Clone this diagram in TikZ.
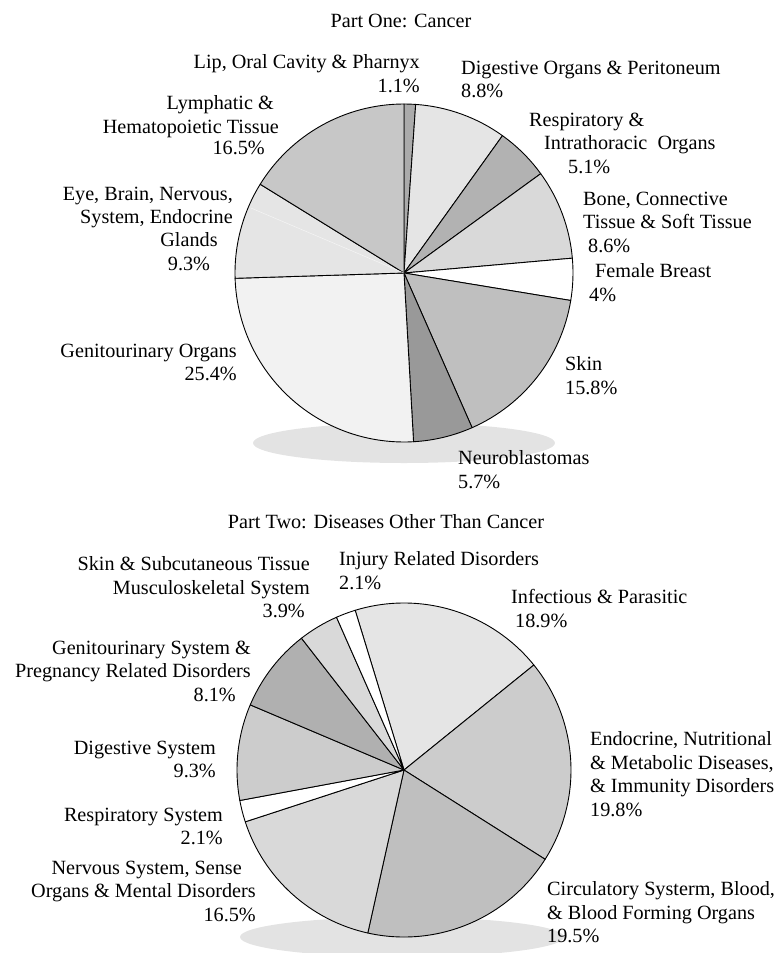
\documentclass[tikz,border=0pt]{standalone}
\usepackage{fontspec}
\setmainfont{Liberation Serif}
\newcommand{\lbfont}{\fontsize{20.2}{23.5}\selectfont}
\tikzset{
  pieline/.style={draw=black,line width=.9pt,line join=round},
  shadow/.style={fill=black!11},
  lbl/.style={inner sep=0pt,font=\lbfont},
}

\begin{document}
\begin{tikzpicture}[x=1pt,y=1pt]
    \useasboundingbox (0,-953) rectangle (778,0);
    \coordinate (c1) at (404,-273);
    \coordinate (c2) at (404,-770);

    % Part One
    \node[lbl] (title1) at (401,-21) {Part One: Cancer};
    \fill[shadow] (404,-443) ellipse (151pt and 20pt);
    \foreach \a/\b/\f in {90/86.04/black!33, 86.04/54.36/black!10,
        54.36/36/black!30, 36/5.04/black!15, 5.04/-9.36/white,
        -9.36/-66.24/black!25, -66.24/-86.76/black!40,
        -86.76/-178.2/black!5, -178.2/-211.68/black!10, -211.68/-270/black!22}
    \filldraw[pieline,fill=\f] (c1) -- ++(\a:169pt) arc (\a:\b:169pt) -- cycle;
    \draw[black!4,line width=.5pt] (c1) -- ++(157:166pt);

    \node[lbl,align=right,anchor=north east] (lip) at (420,-54.5)
        {Lip, Oral Cavity \& Pharnyx\\1.1\%};
    \node[lbl,align=right,anchor=north east] (lymph) at (279,-95.5)
        {Lymphatic \&\hspace*{5pt}\\Hematopoietic Tissue};
    \node[lbl,anchor=base east] (lymphpc) at (265,-154.5) {16.5\%};
    \node[lbl,align=right,anchor=north east] (eye) at (233,-186.5)
        {Eye, Brain, Nervous,\\System, Endocrine};
    \node[lbl,align=center,anchor=north] (eyepc) at (189,-232.5) {Glands\\9.3\%};
    \node[lbl,align=right,anchor=north east] (genito) at (237,-343.5)
        {Genitourinary Organs\\25.4\%};
    \node[lbl,align=left,anchor=north west] (digest) at (461,-60.5)
        {Digestive Organs \& Peritoneum\\8.8\%};
    \node[lbl,align=left,anchor=north west] (resp) at (529,-112.5)
        {Respiratory \&\\\hspace*{15pt}Intrathoracic\ \ Organs\\\hspace*{39pt}5.1\%};
    \node[lbl,align=left,anchor=north west] (bone) at (583,-191.5)
        {Bone, Connective\\Tissue \& Soft Tissue\\\hspace*{5pt}8.6\%};
    \node[lbl,align=left,anchor=north west] (breast) at (589,-263.5)
        {\hspace*{6pt}Female Breast\\4\%};
    \node[lbl,align=left,anchor=north west] (skin) at (565,-356.5) {Skin\\15.8\%};
    \node[lbl,align=left,anchor=north west] (neuro) at (458,-450.5)
        {Neuroblastomas\\5.7\%};

    % Part Two
    \node[lbl] (title2) at (386,-522) {Part Two: Diseases Other Than Cancer};
    \fill[shadow] (402,-937) ellipse (162pt and 20pt);
    \foreach \a/\b/\f in {107/38.96/black!10, 38.96/-32.32/black!20,
        -32.32/-102.52/black!25, -102.52/-161.92/black!15,
        -161.92/-169.48/white, -169.48/-202.96/black!20,
        -202.96/-232.12/black!31, -232.12/-246.16/black!15, -246.16/-253/white}
    \filldraw[pieline,fill=\f] (c2) -- ++(\a:167pt) arc (\a:\b:167pt) -- cycle;

    \node[lbl,align=right,anchor=north east] (skinsub) at (310,-556.5)
        {Skin \& Subcutaneous Tissue\\Musculoskeletal System\\3.9\%\hspace*{5pt}};
    \node[lbl,align=left,anchor=north west] (injury) at (339,-551.5)
        {Injury Related Disorders\\2.1\%};
    \node[lbl,align=left,anchor=north west] (infect) at (511,-589.5)
        {Infectious \& Parasitic\\\hspace*{4pt}18.9\%};
    \node[lbl,align=right,anchor=north east] (genisys) at (251,-640.5)
        {Genitourinary System \&\\Pregnancy Related Disorders\\8.1\%\hspace*{15pt}};
    \node[lbl,align=right,anchor=north east] (digsys) at (216,-740.5)
        {Digestive System\\9.3\%};
    \node[lbl,align=right,anchor=north east] (respsys) at (223,-807.5)
        {Respiratory System\\2.1\%};
    \node[lbl,align=right,anchor=north east] (nerv) at (256,-860.5)
        {Nervous System, Sense\hspace*{14pt}\\Organs \& Mental Disorders\\16.5\%};
    \node[lbl,align=left,anchor=north west] (endo) at (590,-731.5)
        {Endocrine, Nutritional\\\& Metabolic Diseases,\\\& Immunity Disorders\\19.8\%};
    \node[lbl,align=left,anchor=north west] (circ) at (547,-881.5)
        {Circulatory Systerm, Blood,\\\& Blood Forming Organs\\19.5\%};
\end{tikzpicture}
\end{document}
